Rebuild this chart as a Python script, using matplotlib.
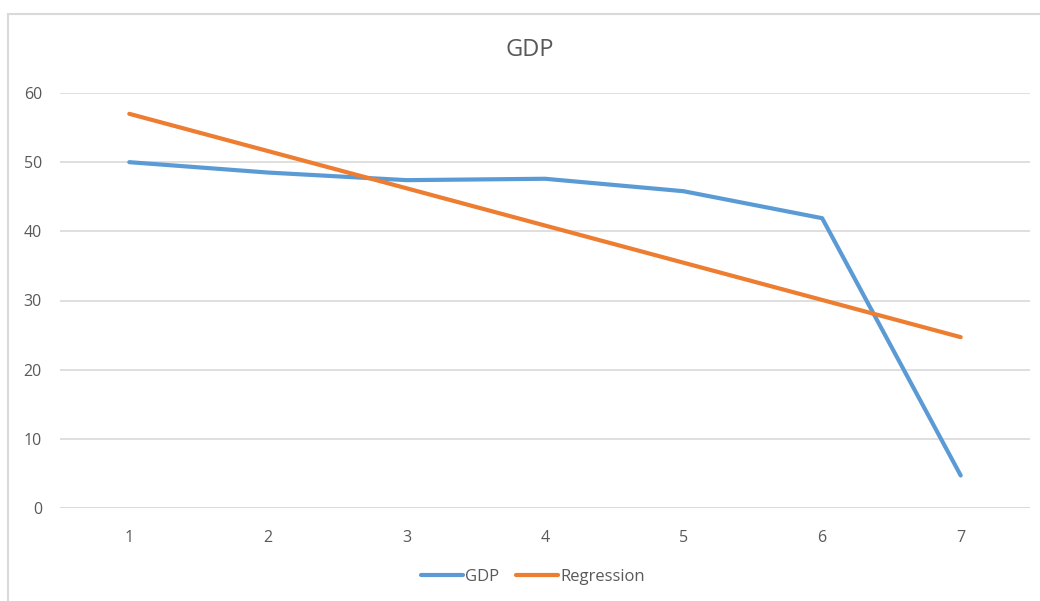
import matplotlib.pyplot as plt
from matplotlib.patches import Rectangle

# GDP series and its linear regression fit
periods = [1, 2, 3, 4, 5, 6, 7]
gdp = [50.0, 48.5, 47.4, 47.6, 45.8, 41.9, 4.7]
regression = [56.99, 51.61, 46.23, 40.84, 35.46, 30.08, 24.70]
y_ticks = [0, 10, 20, 30, 40, 50, 60]

blue = '#5B9BD5'
orange = '#ED7D31'
grid = '#D9D9D9'
text = '#595959'

plt.rcParams['font.family'] = ['Open Sans', 'DejaVu Sans']

fig = plt.figure(figsize=(10.4, 6.01), dpi=100)
ax = fig.add_axes([60 / 1040, 1 - 508 / 601, 970 / 1040, 415 / 601])

ax.plot(periods, gdp, color=blue, lw=3, solid_capstyle='round',
        solid_joinstyle='round', label='GDP', zorder=3)
ax.plot(periods, regression, color=orange, lw=3, solid_capstyle='round',
        solid_joinstyle='round', label='Regression', zorder=3)

ax.set_xlim(0.5, 7.5)
ax.set_ylim(0, 60)
ax.set_xticks(periods)
ax.set_yticks(y_ticks)
ax.tick_params(length=0, labelsize=11.5, colors=text)
ax.tick_params(axis='y', pad=13)
ax.tick_params(axis='x', pad=16)
ax.yaxis.grid(True, color=grid, lw=1.2)
ax.set_axisbelow(True)
for s in ax.spines.values():
    s.set_visible(False)
ax.axhline(0, color=grid, lw=1.2, zorder=1)

fig.text(530 / 1040, 1 - 50 / 601, 'GDP', ha='center', va='center',
         fontsize=17, color=text)

leg = fig.legend(loc='center', bbox_to_anchor=(533 / 1040, 1 - 577 / 601),
                 ncol=2, frameon=False, fontsize=12, handlelength=2.5,
                 handletextpad=0.15, columnspacing=1.0)
for t in leg.get_texts():
    t.set_color(text)

# chart area border
fig.patches.append(Rectangle((8 / 1040, -0.1), 1.2, 1.1 - 14 / 601,
                             transform=fig.transFigure, fill=False,
                             edgecolor=grid, lw=1.5))

fig.savefig('out.png', dpi=100)
